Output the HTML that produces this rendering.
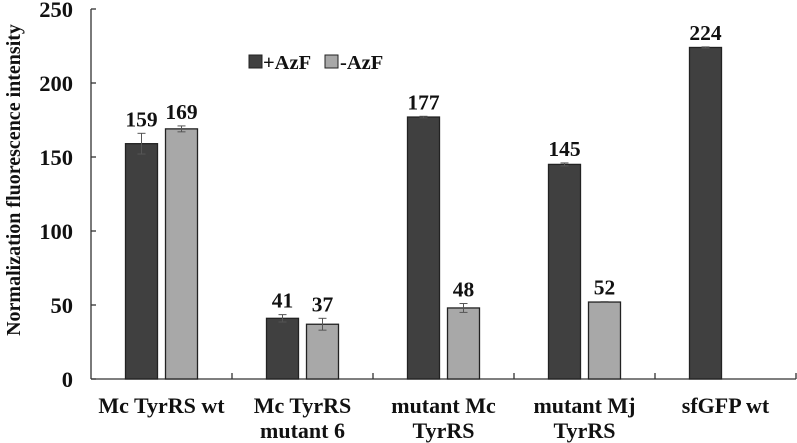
<!DOCTYPE html>
<html><head><meta charset="utf-8"><style>
body{margin:0;background:#fff}
svg{display:block;font-family:"Liberation Serif",serif;font-weight:bold}
</style></head><body>
<svg id="c" width="797" height="443" viewBox="0 0 797 443">
<g id="axes"></g><g id="marks"></g>
<text x="0" y="0" transform="translate(20,180) rotate(-90)" text-anchor="middle" font-size="20" fill="#111">Normalization fluorescence intensity</text>
<g>
<rect x="249" y="55" width="13" height="13" fill="#404040" stroke="#222"/>
<text x="263" y="69" font-size="20.5" fill="#111">+AzF</text>
<rect x="325" y="55" width="13" height="13" fill="#a8a8a8" stroke="#222"/>
<text x="340" y="69" font-size="20.5" fill="#111">-AzF</text>
</g>
</svg>
<script>
const categories=[["Mc TyrRS wt"],["Mc TyrRS","mutant 6"],["mutant Mc","TyrRS"],["mutant Mj","TyrRS"],["sfGFP wt"]];
const plusAzF=[159,41,177,145,224];
const plusErr=[7,2.5,0.5,1,0.4];
const minusAzF=[169,37,48,52,null];
const minusErr=[2,4,3,0.3,0];
const yTicks=[0,50,100,150,200,250];
const NS="http://www.w3.org/2000/svg";
const x0=91,catW=141,y0=379,pxPer=1.48;
const yS=v=>y0-v*pxPer;
const cx=i=>x0+catW*(i+0.5);
function mk(t,a,p){const e=document.createElementNS(NS,t);for(const k in a)e.setAttribute(k,a[k]);p.appendChild(e);return e;}
const ax=document.getElementById('axes'),mg=document.getElementById('marks');
const yl=mk('line',{x1:x0,y1:yS(250),x2:x0,y2:y0,stroke:'#333','stroke-width':1.3},ax);


const xl=mk('line',{x1:x0,y1:y0,x2:x0+catW*5,y2:y0,stroke:'#333','stroke-width':1.3},ax);


yTicks.forEach(v=>{
 mk('line',{x1:x0,y1:yS(v),x2:x0+5,y2:yS(v),stroke:'#333','stroke-width':1.3},ax);
 const t=mk('text',{x:73,y:yS(v)+8,'text-anchor':'end','font-size':22.5,fill:'#111'},ax);t.textContent=v;
 
 
});
for(let i=1;i<=5;i++)mk('line',{x1:x0+catW*i,y1:y0,x2:x0+catW*i,y2:y0-6,stroke:'#333','stroke-width':1.3},ax);
function bar(x,v,err,fill,name){
 const r=mk('rect',{x:x,y:yS(v),width:32,height:v*pxPer,fill:fill,stroke:'#222','stroke-width':1.3},mg);
 
 
 const m=x+16;
 mk('line',{x1:m,y1:yS(v+err),x2:m,y2:yS(v-err),stroke:'#555','stroke-width':1},mg);
 mk('line',{x1:m-4,y1:yS(v+err),x2:m+4,y2:yS(v+err),stroke:'#555','stroke-width':1},mg);
 mk('line',{x1:m-4,y1:yS(v-err),x2:m+4,y2:yS(v-err),stroke:'#555','stroke-width':1},mg);
 const t=mk('text',{x:m,y:yS(v+err)-7,'text-anchor':'middle','font-size':21.5,fill:'#111'},mg);t.textContent=v;
 
 
}
categories.forEach((c,i)=>{
 bar(cx(i)-36,plusAzF[i],plusErr[i],'#404040','bar-plus-azf');
 if(minusAzF[i]!=null)bar(cx(i)+4,minusAzF[i],minusErr[i],'#a8a8a8','bar-minus-azf');
 c.forEach((line,j)=>{
  const t=mk('text',{x:cx(i),y:413+j*25,'text-anchor':'middle','font-size':22,fill:'#111'},ax);t.textContent=line;
  
  
 });
});
</script>
</body></html>
